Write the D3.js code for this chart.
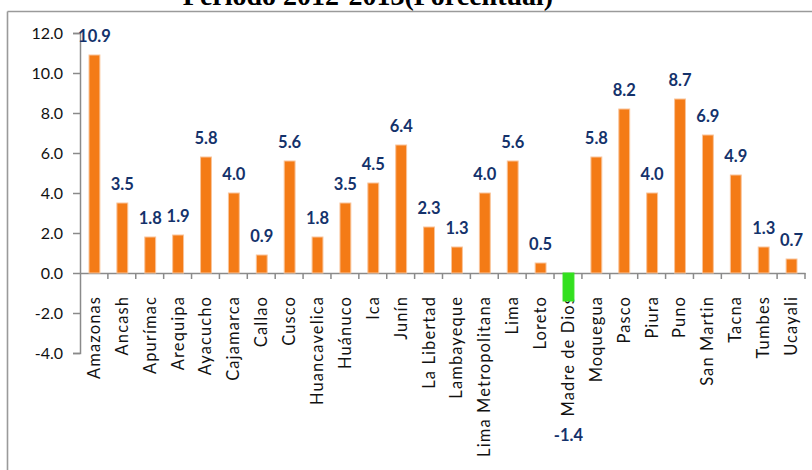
<!DOCTYPE html>
<html><head><meta charset="utf-8">
<script src="https://cdn.jsdelivr.net/npm/d3@7"></script>
<style>body{margin:0;background:#fff}svg{display:block}</style>
</head><body>
<svg id="c" width="812" height="470"></svg>
<script>
const categories = ["Amazonas","Ancash","Apurímac","Arequipa","Ayacucho","Cajamarca","Callao","Cusco","Huancavelica","Huánuco","Ica","Junín","La Libertad","Lambayeque","Lima Metropolitana","Lima","Loreto","Madre de Dios","Moquegua","Pasco","Piura","Puno","San Martin","Tacna","Tumbes","Ucayali"];
const values = [10.9,3.5,1.8,1.9,5.8,4.0,0.9,5.6,1.8,3.5,4.5,6.4,2.3,1.3,4.0,5.6,0.5,-1.4,5.8,8.2,4.0,8.7,6.9,4.9,1.3,0.7];
const yTicks = [-4,-2,0,2,4,6,8,10,12];
const title = "Periodo 2012-2013(Porcentual)";

const svg = d3.select("#c");
const font = "Lato, 'Open Sans', sans-serif";
const axisColor = "#8a8a8a";
const fmt = d => d3.format(".1f")(d).replace("\u2212","-");

// frame
svg.append("line").attr("x1",7.5).attr("x2",812).attr("y1",11.5).attr("y2",11.5).attr("stroke","#9a9a9a").attr("stroke-width",1.6);
svg.append("line").attr("x1",7.5).attr("x2",7.5).attr("y1",11.5).attr("y2",470).attr("stroke","#9a9a9a").attr("stroke-width",1.6);

// title (cut at top, as in the reference)
svg.append("text").attr("x",368).attr("y",5).attr("text-anchor","middle")
  .attr("font-family","'Liberation Serif','Times New Roman',serif").attr("font-weight","bold")
  .attr("font-size",28).attr("fill","#000").text(title);

const x = d3.scaleBand().domain(categories).range([80,805]).padding(0);
const y = d3.scaleLinear().domain([-4,12]).range([353,33]);

// y axis
const yAxis = svg.append("g").attr("transform","translate(80,0)")
  .call(d3.axisLeft(y).tickValues(yTicks).tickSize(7).tickPadding(10).tickFormat(fmt));
yAxis.select(".domain").attr("stroke",axisColor).attr("stroke-width",1.5);
yAxis.selectAll(".tick line").attr("stroke",axisColor).attr("stroke-width",1.5);
yAxis.selectAll("text").attr("font-family",font).attr("font-size",16).attr("fill","#111");

// x axis at zero
const xAxis = svg.append("g").attr("transform",`translate(0,${y(0)})`)
  .call(d3.axisBottom(x).tickSize(0).tickPadding(0));
xAxis.select(".domain").attr("stroke",axisColor).attr("stroke-width",1.5);
const bounds = categories.map(c => x(c)).concat([x.range()[1]]).slice(1);
xAxis.selectAll("line.bt").data(bounds).enter().append("line").attr("class","bt")
  .attr("x1",d=>d).attr("x2",d=>d).attr("y1",0).attr("y2",6)
  .attr("stroke",axisColor).attr("stroke-width",1.5);
xAxis.selectAll(".tick text")
  .attr("transform","rotate(-90)").attr("text-anchor","end")
  .attr("x",-23).attr("y",0).attr("dy","0.36em")
  .attr("font-family",font).attr("font-size",16.5).attr("letter-spacing","1.1px").attr("fill","#111");

// bars
const bw = x.bandwidth()*0.39;
svg.append("g").selectAll("rect").data(values).enter().append("rect")
  .attr("x",(d,i)=>x(categories[i])+x.bandwidth()/2-bw/2+0.5)
  .attr("width",bw)
  .attr("y",d=>y(Math.max(0,d)))
  .attr("height",d=>Math.abs(y(d)-y(0)))
  .attr("fill",d=>d<0?"#33e01f":"#f47b16")
  .attr("stroke",d=>d<0?"#33e01f":"#f9c49a").attr("stroke-width",1);

// value labels
svg.append("g").selectAll("text").data(values).enter().append("text")
  .attr("x",(d,i)=>x(categories[i])+x.bandwidth()/2+0.5)
  .attr("y",d=>d<0? y(d)+140 : y(d)-13)
  .attr("text-anchor","middle")
  .attr("font-family",font).attr("font-weight","bold").attr("font-size",16.5)
  .attr("fill","#14326b")
  .text(fmt);
</script>
</body></html>
